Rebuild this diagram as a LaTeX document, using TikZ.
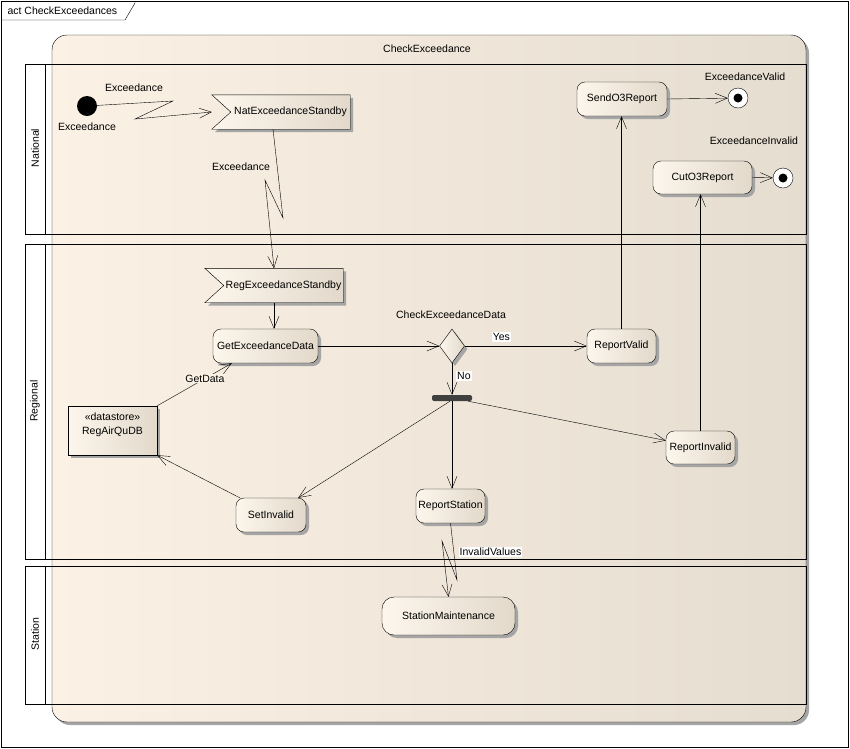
\documentclass[tikz,border=0pt]{standalone}
\usepackage{fontspec}
\setmainfont{Liberation Sans}
\usetikzlibrary{arrows.meta,shapes.geometric,shadows,positioning}
\definecolor{actleft}{RGB}{251,241,228}
\definecolor{actright}{RGB}{229,221,208}
\definecolor{nodeleft}{RGB}{253,246,236}
\definecolor{noderight}{RGB}{226,217,203}
\definecolor{shadowgray}{RGB}{165,165,165}
\definecolor{forkgray}{RGB}{64,64,64}
\pgfdeclarelayer{bg}
\pgfdeclarelayer{shp}
\pgfsetlayers{bg,shp,main}

\begin{document}
\begin{tikzpicture}[
    x=1pt, y=-1pt,
    font=\fontsize{10.5}{12}\selectfont,
    line width=0.8pt,
    gradfill/.style={left color=nodeleft, right color=noderight},
    shadowed/.style={drop shadow={shadow xshift=3pt, shadow yshift=-3pt, fill=shadowgray, opacity=1}},
    action/.style={draw, rounded corners=8pt, gradfill, shadowed, minimum height=34pt, inner sep=1pt},
    evtbox/.style={minimum width=138pt, minimum height=34pt, inner sep=0pt},
    store/.style={draw, rectangle, gradfill, shadowed, minimum width=89pt, minimum height=49pt,
                  align=center, inner sep=1pt, font=\fontsize{10.5}{14}\selectfont, text depth=14pt},
    decision/.style={draw, diamond, gradfill, shadowed, minimum width=25pt, minimum height=34pt, inner sep=0pt},
    forkbar/.style={fill=forkgray, rounded corners=2pt, minimum width=40pt, minimum height=6pt, inner sep=0pt},
    initnode/.style={circle, fill=black, minimum size=20pt, inner sep=0pt},
    finalnode/.style={circle, draw, fill=white, minimum size=20pt, inner sep=0pt},
    flow/.style={draw, -{Straight Barb[length=12pt,width=10pt]}},
    lbl/.style={inner sep=1pt},
    guard/.style={fill=white, inner sep=1pt},
    lanelbl/.style={rotate=90}
]
\useasboundingbox (0,0) rectangle (850,748);

% ===== Frame, activity and lanes =====
\begin{pgfonlayer}{bg}
    \fill[white] (0,0) rectangle (850,748);
    \draw (1,1) rectangle (848,747);
    \draw (1,20) -- (125,20) -- (135,3) -- (135,1);
    \draw[left color=actleft, right color=actright, rounded corners=15pt, shadowed] (52,35) rectangle (806,722);
    \draw (25,64) rectangle (806,234);
    \draw (25,244) rectangle (806,559);
    \draw (25,566) rectangle (806,704);
    \filldraw[fill=white] (25,64) rectangle (45,234);
    \filldraw[fill=white] (25,244) rectangle (45,559);
    \filldraw[fill=white] (25,566) rectangle (45,704);
\end{pgfonlayer}

\node[anchor=west] (frametitle) at (4,11) {act CheckExceedances};
\node (acttitle) at (427,49) {CheckExceedance};
\node[lanelbl] (natlane) at (35,148) {National};
\node[lanelbl] (reglane) at (35,401) {Regional};
\node[lanelbl] (stalane) at (35,634) {Station};

% ===== National =====
\node[initnode] (init) at (87,106) {};
\node[lbl] (initlbl) at (87,127) {Exceedance};
\node[lbl] (exclbl1) at (134,88) {Exceedance};
\node[evtbox] (nat) at (281,112) {\hspace*{19pt}NatExceedanceStandby};
\node[lbl] (exclbl2) at (241,167) {Exceedance};
\node[action, minimum width=90pt] (send) at (622,99) {SendO3Report};
\node[action, minimum width=99pt, minimum height=33pt] (cut) at (702.5,177.5) {CutO3Report};
\node[finalnode] (fin1) at (738,98) {};
\node[finalnode] (fin2) at (783,178) {};
\fill (fin1.center) circle (4.5pt);
\fill (fin2.center) circle (4.5pt);
\node[lbl] (fin1lbl) at (745,77) {ExceedanceValid};
\node[lbl] (fin2lbl) at (754,141) {ExceedanceInvalid};

% ===== Regional =====
\node[evtbox] (reg) at (274,285.5) {\hspace*{19pt}RegExceedanceStandby};
\node[action, minimum width=105pt] (get) at (265.5,346) {GetExceedanceData};
\node[decision] (dec) at (452,346) {};
\node[lbl] (declbl) at (451,315) {CheckExceedanceData};
\node[action, minimum width=69pt] (rvalid) at (621.5,346) {ReportValid};
\node[forkbar] (fork) at (452,398) {};
\node[action, minimum width=69pt, minimum height=33pt] (rinvalid) at (700.5,447.5) {ReportInvalid};
\node[action, minimum width=69pt] (rstation) at (450.5,506) {ReportStation};
\node[action, minimum width=70pt] (setinv) at (271,515) {SetInvalid};
\node[store] (db) at (112.5,430.5) {«datastore»\\RegAirQuDB};

% ===== Station =====
\node[action, minimum width=133pt, minimum height=38pt, rounded corners=12pt] (stmaint) at (448.5,616) {StationMaintenance};
\node[guard] (invlbl) at (490.5,552) {InvalidValues};

% accept event shapes
\begin{pgfonlayer}{shp}
    \foreach \n in {nat,reg}{
        \draw[gradfill, shadowed] (\n.north west) -- (\n.north east) -- (\n.south east)
            -- (\n.south west) -- ([xshift=19pt]\n.west) -- cycle;
    }
\end{pgfonlayer}

% ===== Flows =====
\draw[flow] (init) -- (173,101) -- (135,119) -- (nat.west);
\draw[flow] ([xshift=-8pt]nat.south) -- (283,218) -- (265,180) -- (reg.north);
\draw[flow] (reg.south) -- (reg.south |- get.north);
\draw[flow] (get.east) -- (dec.west);
\draw[flow] (dec.east) -- node[guard, above=4pt, pos=0.3] (yeslbl) {Yes} (rvalid.west);
\draw[flow] (dec.south) -- node[guard, right=4pt, pos=0.4] (nolbl) {No} (fork.north);
\draw[flow] (fork.south) -- (fork.south |- rstation.north);
\draw[flow] ([xshift=-4pt]fork.south east) -- ([yshift=7pt]rinvalid.west);
\draw[flow] ([xshift=-2pt]fork.south) -- ([xshift=-8pt]setinv.north east);
\draw[flow] ([xshift=4pt]setinv.north west) -- (db.south east);
\draw[flow] (db.north east) -- node[pos=0.64, fill=actleft, inner sep=1pt] (getdatalbl) {GetData} ([xshift=19pt]get.south west);
\draw[flow] (rvalid.north) -- (rvalid.north |- send.south);
\draw[flow] (send.east) -- (fin1);
\draw[flow] (rinvalid.north) -- (rinvalid.north |- cut.south);
\draw[flow] (cut.east) -- (fin2);
\draw[flow] (rstation.south) -- (457,580) -- (442,541) -- (stmaint.north);

\end{tikzpicture}
\end{document}
